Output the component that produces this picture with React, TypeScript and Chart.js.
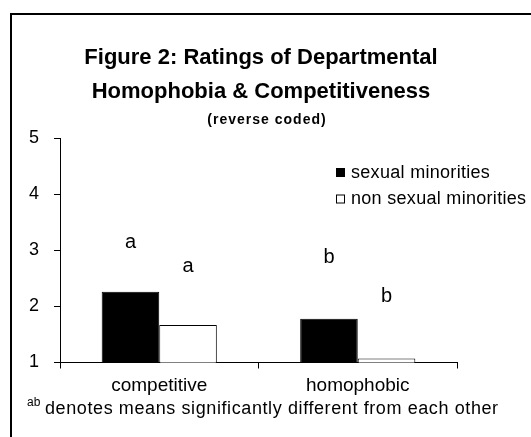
import React, { useEffect, useRef } from "react";
import { Chart, registerables } from "chart.js";

Chart.register(...registerables);

const FONT = "Arial, 'Liberation Sans', sans-serif";

const categories = ["competitive", "homophobic"];
const seriesNames = ["sexual minorities", "non sexual minorities"];
const sexualMinorities = [2.26, 1.78];
const nonSexualMinorities = [1.67, 1.07];
const sigLettersSM = ["a", "b"];
const sigLettersNSM = ["a", "b"];
const sigLevelSM = [3.13, 2.88];
const sigLevelNSM = [2.71, 2.18];
const yMin = 1;
const yMax = 5;
const yStep = 1;
const titleLines = ["Figure 2: Ratings of Departmental", "Homophobia & Competitiveness"];
const subtitle = "(reverse coded)";
const footnoteSup = "ab";
const footnoteText = "denotes means significantly different from each other";

const decorPlugin = {
  id: "decor",
  afterDraw(chart: any) {
    const ctx = chart.ctx as CanvasRenderingContext2D;
    ctx.save();
    // frame
    ctx.strokeStyle = "#000";
    ctx.lineWidth = 2;
    ctx.strokeRect(11, 14, 700, 700);

    // title
    ctx.fillStyle = "#000";
    ctx.textAlign = "center";
    ctx.textBaseline = "middle";
    ctx.font = `bold 22px ${FONT}`;
    ctx.fillText(titleLines[0], 261, 58);
    ctx.fillText(titleLines[1], 261, 92);
    ctx.font = `bold 14px ${FONT}`;
    (ctx as any).letterSpacing = "1px";
    ctx.fillText(subtitle, 267, 120);
    (ctx as any).letterSpacing = "0px";

    // significance letters
    const yScale = chart.scales.y;
    ctx.font = `20px ${FONT}`;
    const letterSets = [
      { letters: sigLettersSM, levels: sigLevelSM },
      { letters: sigLettersNSM, levels: sigLevelNSM },
    ];
    letterSets.forEach((set, di) => {
      const meta = chart.getDatasetMeta(di);
      meta.data.forEach((bar: any, i: number) => {
        ctx.fillText(set.letters[i], bar.x, yScale.getPixelForValue(set.levels[i]));
      });
    });

    // legend
    ctx.textAlign = "left";
    ctx.font = `18px ${FONT}`;
    (ctx as any).letterSpacing = "0.3px";
    chart.data.datasets.forEach((ds: any, i: number) => {
      const y = 172 + i * 26.5;
      ctx.fillStyle = ds.backgroundColor;
      ctx.fillRect(336.5, y - 3.5, 8, 8);
      ctx.strokeStyle = "#000";
      ctx.lineWidth = 1;
      ctx.strokeRect(336.5, y - 3.5, 8, 8);
      ctx.fillStyle = "#000";
      ctx.fillText(ds.label, 351, y + 1);
    });
    (ctx as any).letterSpacing = "0px";

    // footnote
    ctx.font = `12px ${FONT}`;
    ctx.fillText(footnoteSup, 27, 403);
    ctx.font = `18px ${FONT}`;
    (ctx as any).letterSpacing = "0.6px";
    ctx.fillText(footnoteText, 45, 409);
    (ctx as any).letterSpacing = "0px";
    ctx.restore();
  },
};

export default function App() {
  const ref = useRef<HTMLCanvasElement | null>(null);
  useEffect(() => {
    if (!ref.current) return;
    const chart = new Chart(ref.current, {
      type: "bar",
      data: {
        labels: categories,
        datasets: [
          { label: seriesNames[0], data: sexualMinorities, backgroundColor: "#000000", borderColor: "#000000", borderWidth: 1 },
          { label: seriesNames[1], data: nonSexualMinorities, backgroundColor: "#ffffff", borderColor: "#000000", borderWidth: 1 },
        ],
      },
      options: {
        responsive: false,
        animation: false,
        devicePixelRatio: 1,
        layout: { padding: { left: 0, top: 138, right: 74, bottom: 0 } },
        datasets: { bar: { categoryPercentage: 0.58, barPercentage: 1 } } as any,
        plugins: {
          legend: { display: false },
          title: { display: false },
          tooltip: { enabled: false },
        },
        scales: {
          x: {
            grid: { display: true, drawOnChartArea: false, drawTicks: true, tickLength: 6, color: "#000", offset: true },
            border: { display: true, color: "#000", width: 1 },
            ticks: { color: "#000", font: { size: 19, family: FONT }, padding: 6 },
            afterFit: (s: any) => { s.height = 437 - 362.5; },
          },
          y: {
            min: yMin,
            max: yMax,
            ticks: { stepSize: yStep, color: "#000", font: { size: 18, family: FONT }, padding: 15 },
            grid: { display: true, drawOnChartArea: false, drawTicks: true, tickLength: 6, color: "#000" },
            border: { display: true, color: "#000", width: 1 },
            afterFit: (s: any) => { s.width = 60; },
          },
        },
      },
      plugins: [decorPlugin],
    });
    return () => chart.destroy();
  }, []);
  return (
    <div style={{ position: "absolute", left: 0, top: 0, width: 531, height: 437, background: "#fff" }}>
      <canvas ref={ref} width={531} height={437} style={{ display: "block", width: 531, height: 437 }} />
    </div>
  );
}
